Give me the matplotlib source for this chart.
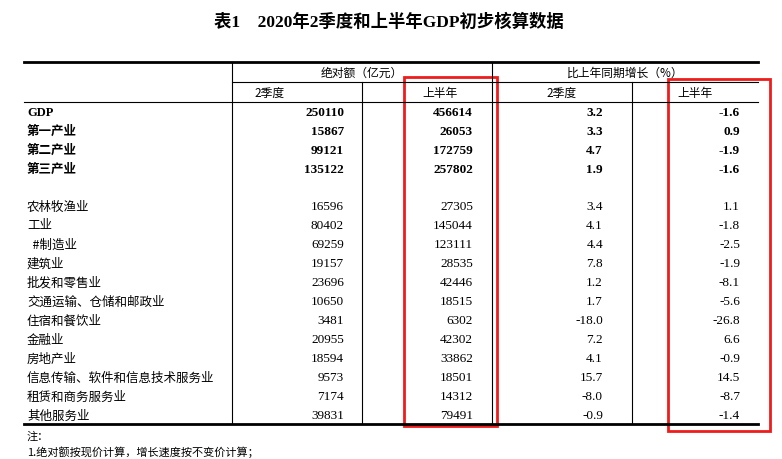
import matplotlib
matplotlib.use("Agg")
import matplotlib.pyplot as plt
from matplotlib.patches import Rectangle

categories = ["GDP", "第一产业", "第二产业", "第三产业", "",
              "农林牧渔业", "工业", "  #制造业", "建筑业", "批发和零售业",
              "交通运输、仓储和邮政业", "住宿和餐饮业", "金融业", "房地产业",
              "信息传输、软件和信息技术服务业", "租赁和商务服务业", "其他服务业"]
q2_value = ["250110", "15867", "99121", "135122", "",
            "16596", "80402", "69259", "19157", "23696", "10650", "3481",
            "20955", "18594", "9573", "7174", "39831"]
h1_value = ["456614", "26053", "172759", "257802", "",
            "27305", "145044", "123111", "28535", "42446", "18515", "6302",
            "42302", "33862", "18501", "14312", "79491"]
q2_growth = ["3.2", "3.3", "4.7", "1.9", "",
             "3.4", "4.1", "4.4", "7.8", "1.2", "1.7", "-18.0",
             "7.2", "4.1", "15.7", "-8.0", "-0.9"]
h1_growth = ["-1.6", "0.9", "-1.9", "-1.6", "",
             "1.1", "-1.8", "-2.5", "-1.9", "-8.1", "-5.6", "-26.8",
             "6.6", "-0.9", "14.5", "-8.7", "-1.4"]
title = "表1    2020年2季度和上半年GDP初步核算数据"
group_headers = ["绝对额（亿元）", "比上年同期增长（%）"]
sub_headers = ["2季度", "上半年", "2季度", "上半年"]
notes = ["注：", "1.绝对额按现价计算，增长速度按不变价计算；"]

W, H = 782, 460
fig = plt.figure(figsize=(W/100, H/100), dpi=100)
ax = fig.add_axes([0, 0, 1, 1])
ax.set_xlim(0, W); ax.set_ylim(H, 0); ax.axis("off")

CJK = "Noto Sans CJK SC"
SER = "Liberation Serif"
ax.text(389, 22, title, ha="center", va="center", fontsize=12.5, fontweight="bold", family=[SER, CJK])

L, R = 24, 758
ax.plot([L, R], [63, 63], color="black", lw=2)
ax.plot([232, R], [83, 83], color="black", lw=0.8)
ax.plot([L, R], [103, 103], color="black", lw=0.8)
ax.plot([L, R], [425, 425], color="black", lw=2)
for x in [232, 492]:
    ax.plot([x, x], [63, 425], color="black", lw=0.8)
for x in [362, 632]:
    ax.plot([x, x], [83, 425], color="black", lw=0.8)

ax.text(362, 73, group_headers[0], ha="center", va="center", fontsize=8.5, family=CJK)
ax.text(625, 73, group_headers[1], ha="center", va="center", fontsize=8.5, family=CJK)
for x, s in zip([270, 440, 562, 695], sub_headers):
    ax.text(x, 93, s, ha="center", va="center", fontsize=8.5, family=CJK)

ys = [113, 132, 151, 170, 189] + [207 + 19*i for i in range(12)]
rightx = [344, 473, 603, 740]
for i, y in enumerate(ys):
    bold = i < 4
    w = "bold" if bold else "normal"
    ax.text(27, y, categories[i], ha="left", va="center", fontsize=9,
            family=[SER, CJK] if bold else CJK, fontweight=w)
    for x, col in zip(rightx, [q2_value, h1_value, q2_growth, h1_growth]):
        ax.text(x, y, col[i], ha="right", va="center", fontsize=9.5, family=SER, fontweight=w)

ax.text(27, 437, notes[0], ha="left", va="center", fontsize=8, family=CJK)
ax.text(27, 452, notes[1], ha="left", va="center", fontsize=8, family=CJK)

ax.add_patch(Rectangle((404, 78), 93, 349, fill=False, ec="#ee1c1c", lw=2))
ax.add_patch(Rectangle((668, 80), 102, 352, fill=False, ec="#ee1c1c", lw=2))

fig.savefig("out.png", dpi=100)
